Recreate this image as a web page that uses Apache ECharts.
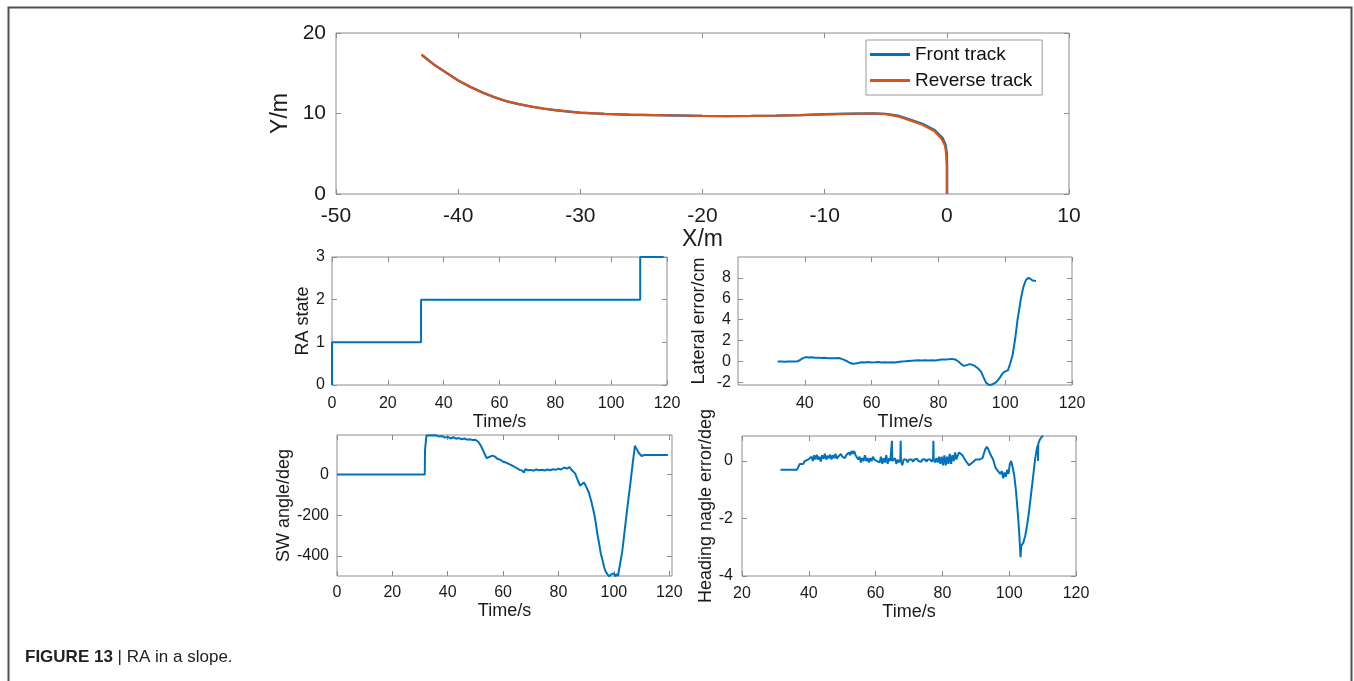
<!DOCTYPE html>
<html>
<head>
<meta charset="utf-8">
<script src="https://cdn.jsdelivr.net/npm/echarts@6/dist/echarts.min.js"></script>
<style>
  html, body { margin: 0; padding: 0; background: #fff; }
  #chart { width: 1354px; height: 681px; }
</style>
</head>
<body>
<div id="chart"></div>
<script>
// track in the X/Y plane (m)
const trackReverse = [
  [-43, 17.3], [-42.5, 16.7], [-42, 16.1], [-41, 15.1], [-40, 14.1], [-39, 13.3], [-38, 12.6],
  [-37, 12.0], [-36, 11.5], [-35, 11.15], [-34, 10.85], [-33, 10.6], [-32, 10.4], [-31, 10.25],
  [-30, 10.1], [-28, 9.95], [-26, 9.85], [-24, 9.8], [-22, 9.75], [-20, 9.7], [-18, 9.68],
  [-16, 9.7], [-14, 9.73], [-12, 9.8], [-10, 9.9], [-8, 9.97], [-6, 10.0], [-5, 9.92],
  [-4, 9.65], [-3, 9.15], [-2, 8.6], [-1, 7.8], [-0.4, 6.8], [-0.15, 6.0], [-0.05, 5.0],
  [0, 3.5], [0, 0]
]
const trackFront = [
  [-43, 17.3], [-42.5, 16.7], [-42, 16.1], [-41, 15.1], [-40, 14.1], [-39, 13.3], [-38, 12.6],
  [-37, 12.0], [-36, 11.5], [-35, 11.15], [-34, 10.85], [-33, 10.6], [-32, 10.4], [-31, 10.25],
  [-30, 10.1], [-28, 9.95], [-26, 9.85], [-24, 9.8], [-22, 9.75], [-20, 9.7], [-18, 9.68],
  [-16, 9.7], [-14, 9.73], [-12, 9.8], [-10, 9.9], [-8, 9.97], [-6, 10.01], [-5, 9.95],
  [-4, 9.72], [-3, 9.25], [-2, 8.72], [-1, 7.95], [-0.35, 6.95], [-0.1, 6.1], [0, 5.0],
  [0.02, 3.5], [0.02, 0]
]
const trackXTicks = [-50, -40, -30, -20, -10, 0, 10]
const trackYTicks = [0, 10, 20]

// RA state over time
const raState = [[0, 0], [0, 1], [31.9, 1], [31.9, 2], [110.4, 2], [110.4, 3], [118.8, 3]]
const raXTicks = [0, 20, 40, 60, 80, 100, 120]
const raYTicks = [0, 1, 2, 3]

// lateral error (cm)
const lateralError = [
  [31.9, 0], [33, 0], [34, -0.02], [35, 0], [36, 0.01], [37, 0], [37.8, 0.02], [38.5, 0.12],
  [39.3, 0.3], [40.3, 0.42], [41, 0.38], [42, 0.4], [43, 0.35], [44, 0.37], [45, 0.33],
  [46, 0.35], [47, 0.3], [48, 0.32], [49, 0.3], [50, 0.33], [50.8, 0.28], [51.8, 0.15],
  [52.8, 0], [53.6, -0.15], [54.4, -0.22], [55.2, -0.2], [56, -0.15], [57, -0.08], [58, -0.1],
  [59, -0.06], [60, -0.1], [61, -0.08], [62, -0.05], [63, -0.1], [64, -0.07], [65, -0.1],
  [66, -0.08], [67, -0.1], [68, -0.05], [69, 0], [70, 0.02], [71, 0.05], [72, 0.08], [73, 0.1],
  [74, 0.12], [75, 0.1], [76, 0.13], [77, 0.1], [78, 0.12], [79, 0.1], [80, 0.15], [81, 0.18],
  [82, 0.2], [83, 0.22], [84, 0.25], [85, 0.2], [86, 0], [87, -0.3], [87.7, -0.42], [88.5, -0.35],
  [89.3, -0.25], [90, -0.3], [91, -0.45], [92, -0.7], [92.8, -1.0], [93.5, -1.5], [94.3, -2.05],
  [95.2, -2.25], [96, -2.2], [97, -2.05], [97.8, -1.8], [98.6, -1.45], [99.3, -1.1], [100, -0.95],
  [100.8, -0.85], [101.5, -0.2], [102.2, 0.6], [103, 2.2], [103.7, 4.0], [104.7, 6.0],
  [105.4, 7.1], [106.2, 7.8], [107, 8.0], [107.6, 7.9], [108.2, 7.75], [109.2, 7.7]
]
const latXTicks = [40, 60, 80, 100, 120]
const latYTicks = [-2, 0, 2, 4, 6, 8]

// steering wheel angle (deg)
const swAngle = [
  [0, 0], [31.7, 0], [31.8, 120], [32, 150], [32.3, 190], [33, 192], [35, 192], [36, 190],
  [37, 185], [38, 188], [39, 180], [40, 184], [41, 176], [42, 182], [43, 175], [44, 178],
  [45, 172], [46, 176], [47, 170], [48, 172], [49, 168], [50, 170], [51, 160], [52, 140],
  [53, 110], [54, 80], [55, 85], [56, 92], [57, 88], [58, 75], [59, 72], [60, 62], [61, 58],
  [62, 52], [63, 45], [64, 38], [65, 30], [66, 22], [67, 18], [67.5, 8], [68, 25], [69, 20],
  [70, 22], [71, 18], [72, 24], [73, 20], [74, 23], [75, 19], [76, 24], [77, 20], [78, 25],
  [79, 22], [80, 28], [81, 24], [82, 34], [83, 28], [84, 36], [84.5, 25], [85, 30], [86, 5],
  [87, -30], [87.8, -55], [88.5, -50], [89.2, -40], [90, -60], [91, -90], [92, -140],
  [92.5, -170], [93, -200], [93.5, -240], [94, -290], [94.7, -340], [95.3, -390], [95.9, -420],
  [96.5, -455], [97, -475], [97.7, -490], [98.3, -500], [99, -490], [99.5, -498], [100, -485],
  [100.5, -500], [101, -488], [101.5, -498], [101.9, -500], [103, -380], [104, -265],
  [105, -150], [106, -40], [107, 75], [107.6, 140], [108.2, 125], [109, 105], [110, 90],
  [111, 95], [112, 95], [119.5, 95]
]
const swXTicks = [0, 20, 40, 60, 80, 100, 120]
const swYTicks = [-400, -200, 0]

// heading angle error (deg)
const headingError = [
  [31.5, -0.3], [36.5, -0.3], [37.3, -0.1], [37.8, -0.05], [38.3, -0.1], [38.8, 0], [39.3, -0.05],
  [39.8, 0.05], [40.3, 0], [40.8, 0.15], [41.2, 0], [41.6, 0.2], [42, 0.05], [42.4, 0.22],
  [42.8, 0.05], [43.2, 0.15], [43.6, -0.02], [44, 0.2], [44.4, 0.08], [44.8, 0.25], [45.2, 0.05],
  [45.6, 0.18], [46, 0.1], [46.4, 0.22], [46.8, 0.05], [47.2, 0.2], [47.6, 0.1], [48, 0.25],
  [48.4, 0.08], [48.8, 0.15], [49.2, 0.1], [49.6, 0.25], [50, 0.15], [50.4, 0.2], [50.8, 0.1],
  [51.2, 0.2], [51.6, 0.15], [52, 0.3], [52.4, 0.2], [52.8, 0.35], [53.2, 0.25], [53.6, 0.35],
  [54, 0.2], [54.4, 0.25], [54.8, 0.05], [55.2, 0.15], [55.6, -0.05], [56, 0.1], [56.4, 0],
  [56.8, 0.2], [57.2, 0], [57.6, 0.1], [58, -0.05], [58.4, 0.1], [58.8, 0], [59.2, 0.15],
  [59.6, 0.05], [60, 0.1], [60.4, 0], [60.8, 0.05], [61.2, -0.05], [61.6, 0.15], [62, -0.1],
  [62.4, 0.1], [62.8, -0.05], [63.2, 0.2], [63.6, -0.1], [64, 0.1], [64.4, 0], [64.8, 0.05],
  [64.9, 0.7], [65, 0], [65.4, -0.05], [65.8, 0.1], [66.2, -0.1], [66.6, 0.05], [67, -0.05],
  [67.4, 0.05], [67.5, 0.7], [67.6, 0], [68, -0.15], [68.4, 0.05], [68.8, 0], [69.2, 0.05],
  [69.6, -0.05], [70, 0.05], [70.4, 0], [70.8, 0.05], [71.2, -0.02], [71.6, 0.05], [72, 0],
  [72.4, 0.08], [72.8, 0], [73.2, 0.05], [73.6, -0.03], [74, 0.05], [74.4, 0.02], [74.8, 0.06],
  [75.2, -0.02], [75.6, 0.05], [76, 0], [76.4, 0.05], [76.8, -0.02], [77.2, 0.05], [77.3, 0.7],
  [77.4, 0.05], [77.8, -0.05], [78.2, 0.1], [78.6, -0.05], [79, 0.15], [79.4, -0.1], [79.8, 0.15],
  [80.2, -0.15], [80.6, 0.2], [81, -0.15], [81.4, 0.15], [81.8, -0.1], [82.2, 0.25], [82.6, -0.1],
  [83, 0.2], [83.4, 0], [83.8, 0.3], [84.2, 0.05], [84.6, 0.2], [85, 0.3], [85.5, 0.25], [86, 0.2],
  [87, 0], [88, -0.15], [89, -0.05], [90, 0.05], [91, 0.05], [92, 0.1], [92.8, 0.4], [93.3, 0.5],
  [93.8, 0.4], [94.5, 0.2], [95.2, 0.05], [95.8, -0.2], [96.3, -0.3], [96.8, -0.25], [97.3, -0.45],
  [97.8, -0.35], [98.2, -0.6], [98.6, -0.4], [99, -0.55], [99.4, -0.3], [99.8, -0.45], [100.2, -0.1],
  [100.6, 0], [101, -0.2], [101.5, -0.5], [102, -1.0], [102.5, -1.7], [103, -2.5], [103.4, -3.35],
  [103.6, -2.95], [104.2, -2.85], [104.8, -2.6], [105.4, -2.2], [106, -1.7], [106.6, -1.1],
  [107.2, -0.5], [107.8, 0.1], [108.3, 0.45], [108.6, 0.55], [108.65, 0], [108.7, 0.6],
  [109.2, 0.75], [109.8, 0.85], [110.2, 0.87]
]
const headXTicks = [20, 40, 60, 80, 100, 120]
const headYTicks = [-4, -2, 0]

const BLUE = '#0072bd'
const ORANGE = '#d95319'
const FRAME = '#8c8c8c'
const TXT = '#1a1a1a'
const FONT = '"Liberation Sans", Arial, Helvetica, sans-serif'

// one value axis; mirror = true gives the tick-only axis on the top / right side
function axis(grid, min, max, ticks, o) {
  o = o || {}
  const a = {
    type: 'value',
    gridIndex: grid,
    min: min,
    max: max,
    position: o.position,
    axisLine: { show: false, onZero: false },
    splitLine: { show: false },
    axisTick: { show: true, inside: true, length: 5, lineStyle: { color: FRAME }, customValues: ticks },
    axisLabel: {
      show: !o.mirror,
      customValues: o.labels || ticks,
      color: TXT,
      fontSize: o.fontSize || 16,
      fontFamily: FONT,
      margin: o.margin || 9
    }
  }
  if (o.name) {
    a.name = o.name
    a.nameLocation = 'middle'
    a.nameGap = o.nameGap
    a.nameTextStyle = { color: TXT, fontSize: o.nameSize || 18, fontFamily: FONT }
  }
  return a
}

function line(name, data, xi, yi, color, width) {
  return {
    name: name,
    type: 'line',
    data: data,
    xAxisIndex: xi,
    yAxisIndex: yi,
    showSymbol: false,
    symbol: 'none',
    clip: false,
    color: color,
    lineStyle: { color: color, width: width },
    emphasis: { disabled: true }
  }
}

const gridBox = { show: true, borderColor: FRAME, borderWidth: 1, backgroundColor: 'transparent' }

const chart = echarts.init(document.getElementById('chart'))
chart.setOption({
  animation: false,
  backgroundColor: '#fff',
  grid: [
    Object.assign({ left: 336, top: 33, width: 733, height: 161 }, gridBox),
    Object.assign({ left: 332, top: 257, width: 335, height: 128 }, gridBox),
    Object.assign({ left: 738, top: 257, width: 334, height: 128 }, gridBox),
    Object.assign({ left: 337, top: 435, width: 335, height: 141 }, gridBox),
    Object.assign({ left: 742, top: 436, width: 334, height: 140 }, gridBox)
  ],
  xAxis: [
    axis(0, -50, 10, trackXTicks, { position: 'bottom', fontSize: 21, margin: 12, name: 'X/m', nameGap: 33, nameSize: 23 }),
    axis(0, -50, 10, trackXTicks, { position: 'top', mirror: true }),
    axis(1, 0, 120, raXTicks, { position: 'bottom', margin: 11, name: 'Time/s', nameGap: 24 }),
    axis(1, 0, 120, raXTicks, { position: 'top', mirror: true }),
    axis(2, 20, 120, latXTicks, { position: 'bottom', margin: 11, name: 'TIme/s', nameGap: 24 }),
    axis(2, 20, 120, latXTicks, { position: 'top', mirror: true }),
    axis(3, 0, 121, swXTicks, { position: 'bottom', margin: 9, name: 'Time/s', nameGap: 24 }),
    axis(3, 0, 121, swXTicks, { position: 'top', mirror: true }),
    axis(4, 20, 120, headXTicks, { position: 'bottom', margin: 10, name: 'Time/s', nameGap: 23 }),
    axis(4, 20, 120, headXTicks, { position: 'top', mirror: true })
  ],
  yAxis: [
    axis(0, 0, 20, trackYTicks, { position: 'left', fontSize: 21, margin: 10, name: 'Y/m', nameGap: 37, nameSize: 23 }),
    axis(0, 0, 20, trackYTicks, { position: 'right', mirror: true }),
    axis(1, 0, 3, raYTicks, { position: 'left', margin: 7, name: 'RA state', nameGap: 20 }),
    axis(1, 0, 3, raYTicks, { position: 'right', mirror: true }),
    axis(2, -2.25, 10, latYTicks, { position: 'left', margin: 7, name: 'Lateral error/cm', nameGap: 30 }),
    axis(2, -2.25, 10, latYTicks, { position: 'right', mirror: true }),
    axis(3, -498, 193, swYTicks, { position: 'left', margin: 8, name: 'SW angle/deg', nameGap: 44 }),
    axis(3, -498, 193, swYTicks, { position: 'right', mirror: true }),
    axis(4, -4, 0.87, headYTicks, { position: 'left', margin: 9, name: 'Heading nagle error/deg', nameGap: 24 }),
    axis(4, -4, 0.87, headYTicks, { position: 'right', mirror: true })
  ],
  legend: {
    left: 866,
    top: 40,
    orient: 'vertical',
    icon: 'rect',
    itemWidth: 40,
    itemHeight: 3,
    itemGap: 7,
    padding: [5, 10, 5, 4],
    borderColor: '#9a9a9a',
    borderWidth: 1,
    backgroundColor: '#fff',
    selectedMode: false,
    textStyle: { color: '#111', fontSize: 19, fontFamily: FONT },
    data: ['Front track', 'Reverse track']
  },
  series: [
    line('Front track', trackFront, 0, 0, BLUE, 2.4),
    line('Reverse track', trackReverse, 0, 0, ORANGE, 2.2),
    line('RA state', raState, 2, 2, BLUE, 2),
    line('Lateral error', lateralError, 4, 4, BLUE, 2),
    line('SW angle', swAngle, 6, 6, BLUE, 2),
    line('Heading error', headingError, 8, 8, BLUE, 2)
  ],
  graphic: [
    {
      type: 'rect',
      shape: { x: 8.5, y: 7.5, width: 1343, height: 700 },
      style: { fill: 'none', stroke: '#505050', lineWidth: 2 },
      silent: true
    },
    {
      type: 'text',
      left: 25,
      top: 649,
      style: {
        text: '{b|FIGURE 13} | RA in a slope.',
        fill: '#222',
        font: '17px ' + FONT,
        rich: { b: { fontWeight: 'bold', fontSize: 17, fontFamily: FONT, fill: '#222' } }
      }
    }
  ]
})
</script>
</body>
</html>
